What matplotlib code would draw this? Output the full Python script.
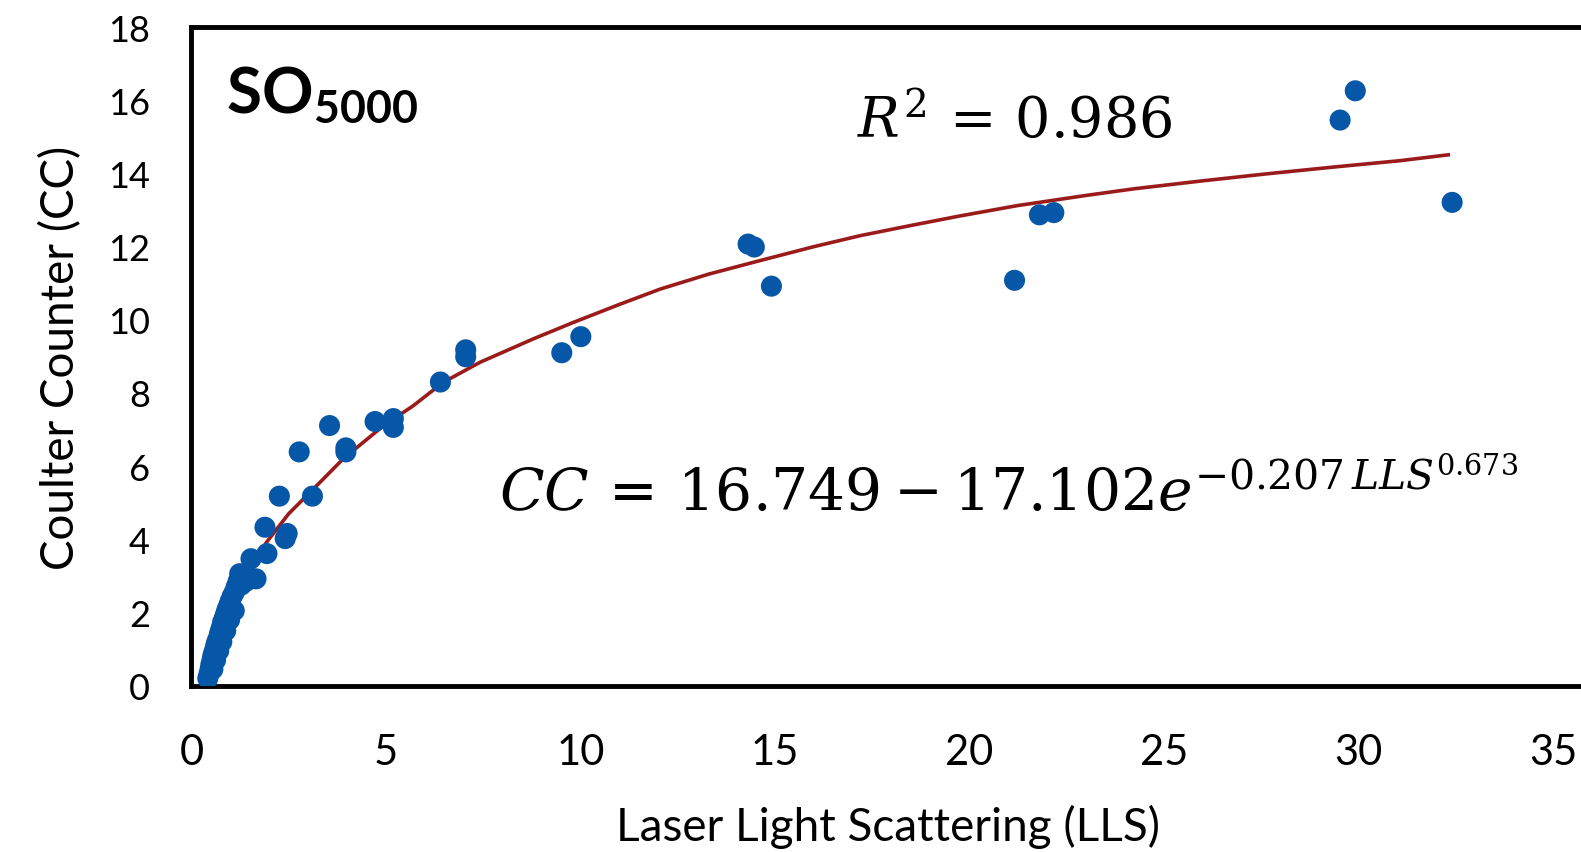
import matplotlib
matplotlib.use('Agg')
import matplotlib.pyplot as plt

# measured points (LLS vs CC)
lls = [0.42, 0.45, 0.48, 0.50, 0.53, 0.55, 0.58, 0.61, 0.63, 0.66, 0.70, 0.72,
       0.75, 0.78, 0.80, 0.84, 0.87, 0.90, 0.93, 0.97, 1.00, 1.05, 1.10, 1.15,
       1.20, 1.24, 1.37, 1.50, 1.53, 1.66, 1.89, 1.94, 2.26, 2.41, 2.46, 2.77,
       3.11, 3.55, 3.97, 3.97, 4.72, 5.19, 5.19, 6.40, 7.05, 7.05, 9.52, 10.01,
       14.31, 14.47, 14.91, 21.16, 21.80, 22.17, 29.53, 29.92, 32.41,
       0.55, 0.62, 0.70, 0.78, 0.88, 0.98, 1.10, 1.28, 1.40]
cc = [0.20, 0.32, 0.45, 0.58, 0.70, 0.82, 0.92, 1.02, 1.12, 1.22, 1.32, 1.42,
      1.52, 1.62, 1.73, 1.83, 1.93, 2.03, 2.12, 2.22, 2.32, 2.45, 2.55, 2.70,
      2.85, 3.06, 3.00, 2.95, 3.47, 2.92, 4.33, 3.61, 5.18, 4.02, 4.16, 6.39,
      5.18, 7.11, 6.39, 6.50, 7.22, 7.30, 7.06, 8.30, 9.18, 8.99, 9.10, 9.54,
      12.07, 11.99, 10.92, 11.08, 12.87, 12.93, 15.46, 16.26, 13.21,
      0.45, 0.70, 0.95, 1.20, 1.50, 1.80, 2.05, 2.75, 2.85]

# fitted curve
fit_x = [1.53, 1.93, 2.50, 3.13, 3.90, 4.93, 5.70, 6.47, 7.42, 8.79, 9.82,
         11.00, 12.05, 13.30, 14.62, 16.00, 17.19, 18.50, 19.76, 21.22,
         23.00, 24.22, 26.00, 27.64, 29.40, 31.07, 32.31]
fit_y = [3.30, 3.92, 4.70, 5.37, 6.20, 7.10, 7.65, 8.29, 8.84, 9.48, 9.93,
         10.42, 10.84, 11.25, 11.62, 12.00, 12.30, 12.58, 12.84, 13.12,
         13.40, 13.58, 13.80, 13.99, 14.18, 14.35, 14.51]

plt.rcParams['font.family'] = ['Lato', 'DejaVu Sans']
plt.rcParams['mathtext.fontset'] = 'custom'
plt.rcParams['mathtext.bf'] = 'Lato:bold'
plt.rcParams['mathtext.rm'] = 'Lato'

fig = plt.figure(figsize=(15.81, 8.53), dpi=100)
ax = fig.add_axes([0.1211, 0.195, 0.8808, 0.772])

ax.plot(fit_x, fit_y, color='#9B1B1B', lw=2.6, zorder=2)
ax.scatter(lls, cc, s=230, color='#0757A8', edgecolors='none', zorder=3)

ax.set_xlim(0, 35.8)
ax.set_ylim(0, 18)
ax.set_xticks(range(0, 36, 5))
ax.set_yticks(range(0, 19, 2))
ax.tick_params(axis='x', length=0, pad=34, labelsize=30)
ax.tick_params(axis='y', length=0, pad=30, labelsize=26)
for s in ['left', 'top', 'bottom']:
    ax.spines[s].set_linewidth(3.5)
ax.spines['right'].set_visible(False)

ax.set_xlabel('Laser Light Scattering (LLS)', fontsize=33, labelpad=24)
ax.set_ylabel('Coulter Counter (CC)', fontsize=33, labelpad=18)

ax.text(0.9, 15.7, r'$\mathbf{SO}_{\mathbf{5000}}$', fontsize=46,
        math_fontfamily='custom')
ax.text(17.1, 15.0, r'$R^2\,=\,0.986$', fontsize=40, math_fontfamily='dejavuserif')
ax.text(7.9, 4.8, r'$CC\,=\,16.749-17.102e^{-0.207\,LLS^{0.673}}$', fontsize=42,
        math_fontfamily='dejavuserif')

fig.savefig('out.png', dpi=100)
